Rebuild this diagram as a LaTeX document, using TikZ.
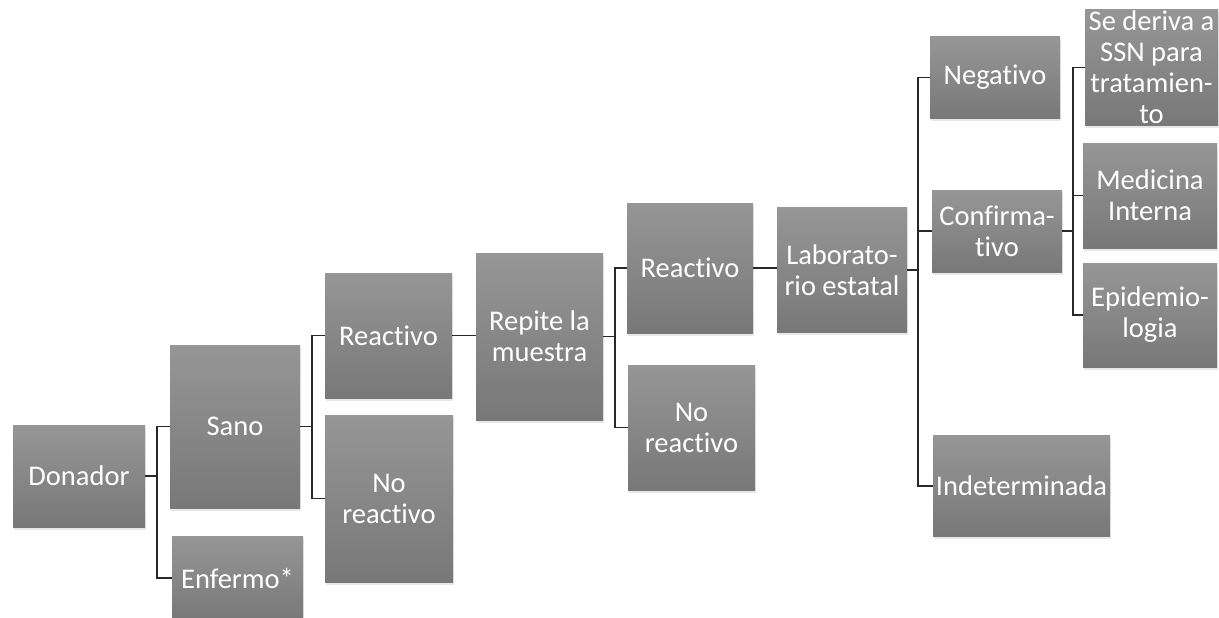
\documentclass[tikz,border=0pt]{standalone}
\usepackage{fontspec}
\setmainfont[Ligatures={NoCommon}]{Carlito}
\usetikzlibrary{shadows}
\tikzset{
  boxnode/.style={rectangle, inner sep=0pt, align=center, text=white,
    top color={rgb,255:red,150;green,150;blue,150},
    bottom color={rgb,255:red,120;green,120;blue,120},
    font=\fontsize{28.5}{31}\selectfont,
    drop shadow={opacity=0.18, shadow xshift=1pt, shadow yshift=-2.5pt}},
  link/.style={draw={rgb,255:red,40;green,40;blue,40}, line width=1.8pt}
}
\begin{document}
\begin{tikzpicture}[x=1pt,y=-1pt]
\useasboundingbox (0,0) rectangle (1219,618);
\begin{scope}
\clip (0,0) rectangle (1219,618);
\node[boxnode, minimum width=132pt, minimum height=102pt] (don) at (79,476) {Donador};
\node[boxnode, minimum width=130pt, minimum height=163pt] (sano) at (235,426.5) {Sano};
\node[boxnode, minimum width=131pt, minimum height=84pt] (enf) at (237.5,578) {Enfermo*};
\node[boxnode, minimum width=127pt, minimum height=125pt] (rea1) at (388.5,335.5) {Reactivo};
\node[boxnode, minimum width=128pt, minimum height=167pt] (nor1) at (389,498.5) {No\\reactivo};
\node[boxnode, minimum width=127pt, minimum height=167pt] (rep) at (539.5,336.5) {Repite la\\muestra};
\node[boxnode, minimum width=126pt, minimum height=130pt] (rea2) at (690,268) {Reactivo};
\node[boxnode, minimum width=127pt, minimum height=125pt] (nor2) at (691.5,427.5) {No\\reactivo};
\node[boxnode, minimum width=130pt, minimum height=125pt] (lab) at (842,270) {Laborato-\\rio estatal};
\node[boxnode, minimum width=130pt, minimum height=81pt] (neg) at (995,77.5) {Negativo};
\node[boxnode, minimum width=130pt, minimum height=82pt] (conf) at (997,231) {Confirma-\\tivo};
\node[boxnode, minimum width=177pt, minimum height=101pt] (ind) at (1021.5,486) {Indeterminada};
\node[boxnode, minimum width=133pt, minimum height=115pt] (ssn) at (1151.5,67.5) {Se deriva a\\SSN para\\tratamien-\\to};
\node[boxnode, minimum width=134pt, minimum height=105pt] (med) at (1150,195.5) {Medicina\\Interna};
\node[boxnode, minimum width=134pt, minimum height=104pt] (epi) at (1150,315) {Epidemio-\\logia};
\end{scope}
% connectors
\draw[link] (don.east) -- ++(12,0) |- (sano.west);
\draw[link] (don.east) -- ++(12,0) |- (enf.west);
\draw[link] (sano.east) -- ++(12,0) |- (rea1.west);
\draw[link] (sano.east) -- ++(12,0) |- (nor1.west);
\draw[link] (rea1.east) -- (rea1.east -| rep.west);
\draw[link] (rep.east) -- ++(12,0) |- (rea2.west);
\draw[link] (rep.east) -- ++(12,0) |- (nor2.west);
\draw[link] (rea2.east) -- (rea2.east -| lab.west);
\draw[link] (lab.east) -- ++(11,0) |- (neg.west);
\draw[link] (lab.east) -- ++(11,0) |- (conf.west);
\draw[link] (lab.east) -- ++(11,0) |- (ind.west);
\draw[link] (conf.east) -- ++(11,0) |- (ssn.west);
\draw[link] (conf.east) -- ++(11,0) |- (med.west);
\draw[link] (conf.east) -- ++(11,0) |- (epi.west);
\end{tikzpicture}
\end{document}
